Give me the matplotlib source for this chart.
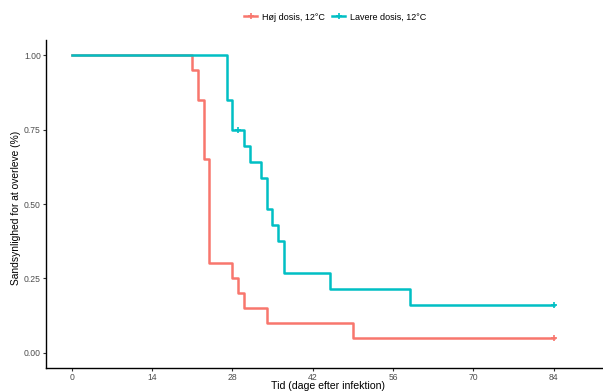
import matplotlib.pyplot as plt
from matplotlib.lines import Line2D

plt.rcParams['font.family'] = ['Liberation Sans', 'DejaVu Sans']

# Kaplan-Meier steps
hoj_tid = [0, 21, 22, 23, 24, 28, 29, 30, 34, 49, 84]
hoj_surv = [1.00, 0.95, 0.85, 0.65, 0.30, 0.25, 0.20, 0.15, 0.10, 0.05, 0.05]
hoj_cens_t = [84]
hoj_cens_s = [0.05]

lav_tid = [0, 27, 28, 30, 31, 33, 34, 35, 36, 37, 45, 59, 84]
lav_surv = [1.00, 0.85, 0.75, 0.696, 0.643, 0.589, 0.482, 0.429, 0.375, 0.268, 0.214, 0.161, 0.161]
lav_cens_t = [29, 84]
lav_cens_s = [0.75, 0.161]

labels = ['Høj dosis, 12°C', 'Lavere dosis, 12°C']
colors = ['#F8766D', '#00BFC4']
xticks = [0, 14, 28, 42, 56, 70, 84]
yticks = [0.00, 0.25, 0.50, 0.75, 1.00]

W, H = 603, 392
fig = plt.figure(figsize=(W / 100, H / 100), dpi=100)
# plot panel runs off the right edge like in the original
left, right, top, bottom = 46, 740, 40, 368
ax = fig.add_axes([left / W, 1 - bottom / H, (right - left) / W, (bottom - top) / H])

for t, s, ct, cs, c in [(hoj_tid, hoj_surv, hoj_cens_t, hoj_cens_s, colors[0]),
                        (lav_tid, lav_surv, lav_cens_t, lav_cens_s, colors[1])]:
    ax.plot(t, s, drawstyle='steps-post', color=c, lw=1.8)
    ax.plot(ct, cs, ls='none', marker='+', ms=5, mew=1.2, color=c)

ax.set_xlim(-4.48, 116.5)
ax.set_ylim(-0.052, 1.052)
ax.set_xticks(xticks)
ax.set_yticks(yticks)
ax.set_yticklabels(['%.2f' % v for v in yticks])
ax.tick_params(labelsize=6.2, labelcolor='#4d4d4d', length=2.2, width=0.8, color='#333333', pad=1.5)
for sp in ['top', 'right']:
    ax.spines[sp].set_visible(False)
for sp in ['left', 'bottom']:
    ax.spines[sp].set_linewidth(1.0)

fig.text(16.5 / W, 1 - 208 / H, 'Sandsynlighed for at overleve (%)', rotation=90,
         ha='center', va='center', fontsize=7.4)
fig.text(328 / W, 1 - 391 / H, 'Tid (dage efter infektion)', ha='center', va='bottom',
         fontsize=7.6)

handles = [Line2D([], [], color=c, lw=1.8, marker='+', ms=5, mew=1.2) for c in colors]
fig.legend(handles, labels, loc='center', bbox_to_anchor=(335 / W, 1 - 17 / H), ncol=2,
           frameon=False, fontsize=6.5, handlelength=1.5, handletextpad=0.5, columnspacing=0.8)

fig.savefig('out.png', dpi=100)
